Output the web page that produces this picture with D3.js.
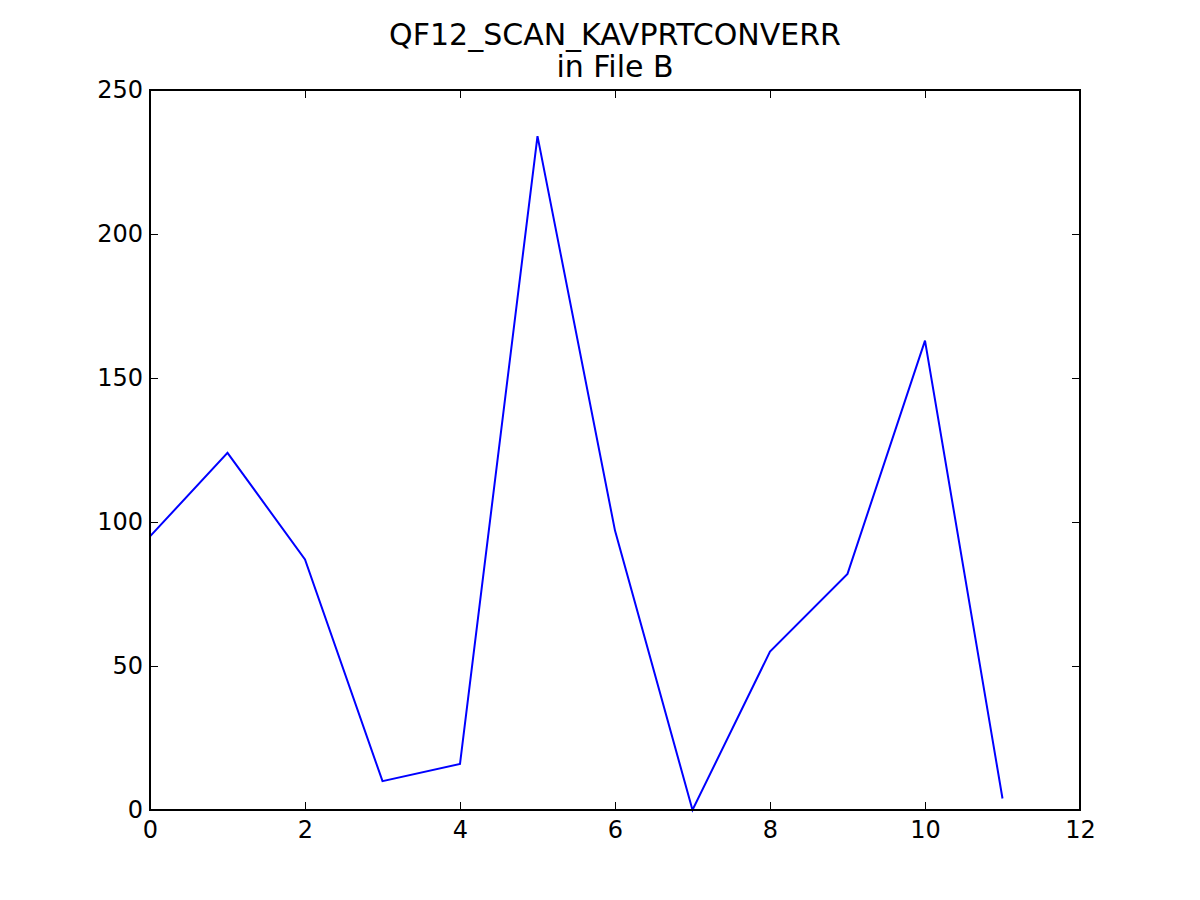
<!DOCTYPE html>
<head>
    <title>QF12_SCAN_KAVPRTCONVERR in File B</title>
</head>
<meta charset="utf-8">
<script src="https://d3js.org/d3.v7.min.js"></script>
<style>
  body { margin: 0; background: white; }
  text { font-family: "DejaVu Sans", sans-serif; }
</style>
<body>
<div id="my_dataviz"></div>
<script>

var xValues = [0, 1, 2, 3, 4, 5, 6, 7, 8, 9, 10, 11];
var yValues = [95, 124, 87, 10, 16, 234, 97, 0, 55, 82, 163, 4];
var xTicks = [0, 2, 4, 6, 8, 10, 12];
var yTicks = [0, 50, 100, 150, 200, 250];
var titleLines = ["QF12_SCAN_KAVPRTCONVERR", "in File B"];

var margin = {top: 90, right: 120, bottom: 90, left: 150},
  width = 1200 - margin.left - margin.right,
  height = 900 - margin.top - margin.bottom;

var svg = d3.select("#my_dataviz")
  .append("svg")
    .attr("width", 1200)
    .attr("height", 900)
  .append("g")
    .attr("transform", "translate(" + margin.left + "," + margin.top + ")");

var x = d3.scaleLinear().domain([0, 12]).range([0, width]);
var y = d3.scaleLinear().domain([0, 250]).range([height, 0]);

// ticks on all four sides, pointing inward like matplotlib classic
function styleAxis(g) {
  g.select(".domain").remove();
  g.selectAll(".tick line").attr("stroke", "black").attr("stroke-width", 1);
  g.selectAll(".tick text").style("font-size", "24px").attr("fill", "black");
}

svg.append("g")
  .attr("transform", "translate(0," + height + ")")
  .call(d3.axisBottom(x).tickValues(xTicks).tickSizeInner(-8).tickPadding(11))
  .call(styleAxis);

svg.append("g")
  .call(d3.axisTop(x).tickValues(xTicks).tickSizeInner(-8).tickFormat(""))
  .call(styleAxis);

svg.append("g")
  .call(d3.axisLeft(y).tickValues(yTicks).tickSizeInner(-8).tickPadding(7))
  .call(styleAxis);

svg.append("g")
  .attr("transform", "translate(" + width + ",0)")
  .call(d3.axisRight(y).tickValues(yTicks).tickSizeInner(-8).tickFormat(""))
  .call(styleAxis);

var line = d3.line()
  .x(function(d, i) { return x(xValues[i]); })
  .y(function(d) { return y(d); });

svg.append("path")
  .datum(yValues)
  .attr("d", line)
  .attr("fill", "none")
  .attr("stroke", "#0000ff")
  .attr("stroke-width", 2);

svg.append("rect")
  .attr("width", width)
  .attr("height", height)
  .attr("fill", "none")
  .attr("stroke", "black")
  .attr("stroke-width", 2);

svg.selectAll("titleLine")
  .data(titleLines)
  .enter()
  .append("text")
    .attr("x", width / 2)
    .attr("y", function(d, i) { return -45 + i * 32; })
    .attr("text-anchor", "middle")
    .style("font-size", "30px")
    .text(function(d) { return d; });

</script>
</body>
